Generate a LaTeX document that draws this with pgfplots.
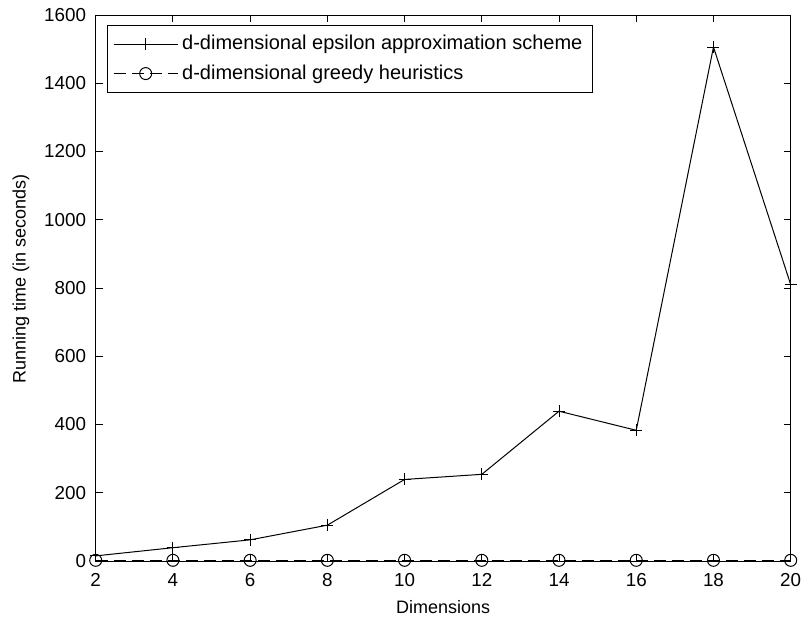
\documentclass[border=0pt]{standalone}
\usepackage{fontspec}
\setmainfont{Liberation Sans}
\usepackage{pgfplots}
\pgfplotsset{compat=1.18}
\begin{document}
\begin{tikzpicture}
\begin{axis}[
  scale only axis, width=347.5pt, height=273pt,
  xmin=2, xmax=20, ymin=0, ymax=1600,
  xtick={2,4,...,20}, ytick={0,200,...,1600},
  tick align=inside, tick pos=both, major tick length=3.5pt,
  scaled ticks=false,
  /pgf/number format/assume math mode=true,
  /pgf/number format/1000 sep={},
  tick label style={font=\fontsize{9.4}{10}\selectfont},
  xticklabel style={yshift=-2.5pt},
  yticklabel style={xshift=-1.3pt},
  label style={font=\fontsize{9}{10}\selectfont},
  xlabel={Dimensions}, ylabel={Running time (in seconds)},
  ylabel style={at={(axis description cs:-0.1075,0.5165)}, anchor=center},
  axis line style={line width=0.5pt},
  every tick/.style={line width=0.5pt, black},
  legend style={at={(0.0158,0.982)}, anchor=north west, draw=black, line width=0.5pt,
    font=\fontsize{10}{11}\selectfont, row sep=2pt, inner xsep=3pt, inner ysep=3pt},
  legend cell align=left,
  legend image code/.code={\draw[mark repeat=2,mark phase=2,#1] plot coordinates {(0pt,0pt) (16pt,0pt) (32pt,0pt)};},
]
\addplot[black, line width=0.5pt, mark=+, mark size=3pt, mark options={solid}] coordinates {
  (2,15) (4,39) (6,62) (8,105) (10,239) (12,254) (14,439) (16,383) (18,1506) (20,810)
};
\addlegendentry{d-dimensional epsilon approximation scheme}
\addplot[black, line width=0.5pt, dash pattern=on 6pt off 3pt, mark=o, mark size=3pt, mark options={solid}] coordinates {
  (2,2) (4,2) (6,2) (8,2) (10,2) (12,2) (14,2) (16,2) (18,2) (20,2)
};
\addlegendentry{d-dimensional greedy heuristics}
\end{axis}
\pgfresetboundingbox
\path ([shift={(-47.85pt,-30.5pt)}]current axis.south west) rectangle ([shift={(5.65pt,7.5pt)}]current axis.north east);
\end{tikzpicture}
\end{document}
